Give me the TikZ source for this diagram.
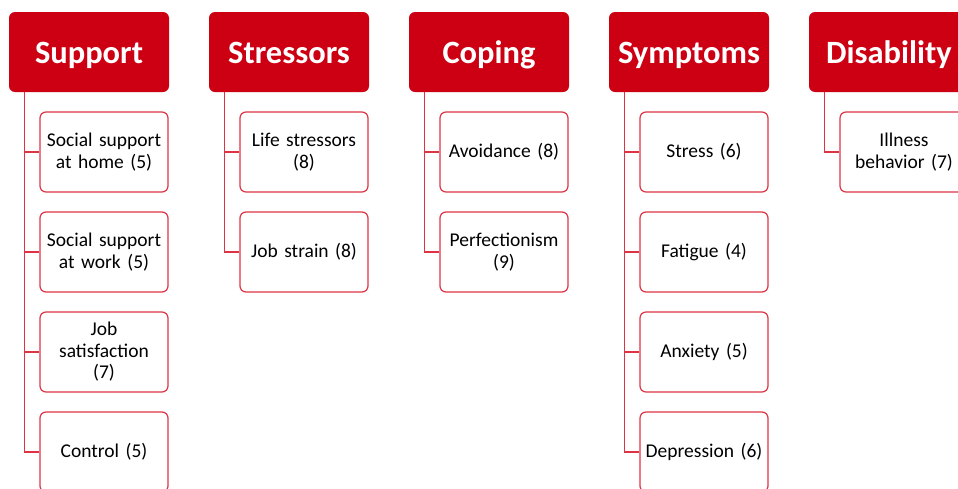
\documentclass[tikz,border=0pt]{standalone}
\usepackage{fontspec}
\setmainfont{Carlito}[WordSpace=0.85]
\usepackage{tikz}
\usetikzlibrary{calc,positioning}
\definecolor{hdred}{HTML}{CC0012}
\definecolor{bxred}{HTML}{DD3345}
\tikzset{
  hd/.style={rectangle,rounded corners=6pt,fill=hdred,draw=none,text=white,minimum width=160pt,minimum height=80pt,inner sep=0pt,text height=24pt,text depth=2pt,font=\fontsize{32.5}{35}\selectfont\bfseries},
  bx/.style={rectangle,rounded corners=6pt,draw=bxred,line width=1.2pt,fill=white,minimum width=128pt,minimum height=80pt,text width=124pt,align=center,inner sep=0pt,font=\fontsize{19.5}{21.5}\selectfont},
  ln/.style={draw=bxred,line width=1.2pt}
}
\begin{document}
\begin{tikzpicture}[x=1pt,y=-1pt]
\useasboundingbox (0,0) rectangle (958,488);
\clip (0,0) rectangle (958,488);
% headers
\node[hd] (sup) at (89,52) {Support};
\node[hd] (str) at (289,52) {Stressors};
\node[hd] (cop) at (489,52) {Coping};
\node[hd] (sym) at (689,52) {Symptoms};
\node[hd] (dis) at (889,52) {Disability};
% support
\node[bx] (sup1) at (104,152) {Social support\\at home (5)};
\node[bx] (sup2) at (104,252) {Social support\\at work (5)};
\node[bx] (sup3) at (104,352) {Job\\satisfaction\\(7)};
\node[bx] (sup4) at (104,452) {Control (5)};
% stressors
\node[bx] (str1) at (304,152) {Life stressors\\(8)};
\node[bx] (str2) at (304,252) {Job strain (8)};
% coping
\node[bx] (cop1) at (504,152) {Avoidance (8)};
\node[bx] (cop2) at (504,252) {Perfectionism\\(9)};
% symptoms
\node[bx] (sym1) at (704,152) {Stress (6)};
\node[bx] (sym2) at (704,252) {Fatigue (4)};
\node[bx] (sym3) at (704,352) {Anxiety (5)};
\node[bx] (sym4) at (704,452) {Depression (6)};
% disability
\node[bx] (dis1) at (904,152) {Illness\\behavior (7)};
% connectors
\foreach \h/\c in {sup/sup1,sup/sup2,sup/sup3,sup/sup4,str/str1,str/str2,cop/cop1,cop/cop2,sym/sym1,sym/sym2,sym/sym3,sym/sym4,dis/dis1}
  \draw[ln] ($(\h.south west)+(16,0)$) |- (\c.west);
\end{tikzpicture}
\end{document}
